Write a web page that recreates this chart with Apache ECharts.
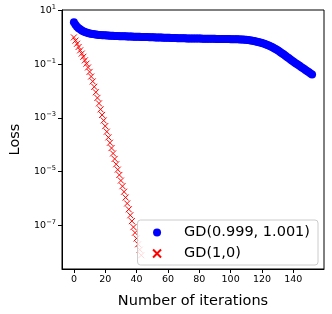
<!DOCTYPE html>
<html>
<head>
<meta charset="utf-8">
<script src="https://cdn.jsdelivr.net/npm/echarts@6/dist/echarts.min.js"></script>
<style>html,body{margin:0;padding:0;background:#fff}#c{width:332px;height:314px}</style>
</head>
<body>
<div id="c"></div>
<script>
// Loss per iteration, GD(0.999, 1.001) (iterations 0..152)
const lossBlue = [
  3.63, 2.95, 2.51, 2.19, 2.00, 1.82, 1.70, 1.58, 1.51, 1.45, 1.40,
  1.36, 1.33, 1.30, 1.28, 1.26, 1.24, 1.22, 1.21, 1.20, 1.19,
  1.175, 1.167, 1.159, 1.151, 1.143, 1.135, 1.127, 1.122, 1.114, 1.109,
  1.104, 1.099, 1.094, 1.089, 1.084, 1.079, 1.074, 1.069, 1.064, 1.059,
  1.054, 1.050, 1.045, 1.040, 1.035, 1.030, 1.026, 1.021, 1.016, 1.012,
  1.007, 1.002, 0.998, 0.993, 0.989, 0.984, 0.979, 0.975, 0.970, 0.966,
  0.962, 0.957, 0.953, 0.948, 0.944, 0.940, 0.936, 0.931, 0.927, 0.923,
  0.921, 0.919, 0.917, 0.915, 0.913, 0.911, 0.909, 0.907, 0.905, 0.903,
  0.901, 0.899, 0.897, 0.895, 0.893, 0.891, 0.889, 0.887, 0.885, 0.883,
  0.881, 0.879, 0.877, 0.875, 0.873, 0.871, 0.869, 0.866, 0.863, 0.860,
  0.857, 0.854, 0.851, 0.848, 0.845, 0.841, 0.837, 0.832, 0.826, 0.820,
  0.804, 0.785, 0.767, 0.748, 0.728, 0.706, 0.685, 0.664, 0.641, 0.617,
  0.592, 0.565, 0.537, 0.508, 0.479, 0.449, 0.419, 0.389, 0.360, 0.331,
  0.303, 0.277, 0.252, 0.229, 0.207, 0.187, 0.170, 0.154, 0.139, 0.126,
  0.115, 0.105, 0.0957, 0.0873, 0.0796, 0.0726, 0.0662, 0.0604, 0.0551, 0.0502,
  0.0458, 0.0418
];
// Loss per iteration, GD(1,0) (iterations 0..43)
const lossRed = [
  1.0, 0.76, 0.58, 0.44, 0.33, 0.25, 0.19, 0.14, 0.105, 0.076,
  0.052, 0.035, 0.023, 0.0145, 9.1e-3, 5.6e-3, 3.5e-3, 2.1e-3, 1.3e-3, 8.1e-4,
  5.0e-4, 3.1e-4, 1.9e-4, 1.2e-4, 7.6e-5, 4.8e-5, 3.0e-5, 1.9e-5, 1.2e-5, 7.6e-6,
  4.7e-6, 2.9e-6, 1.8e-6, 1.1e-6, 6.6e-7, 4.0e-7, 2.4e-7, 1.45e-7, 8.7e-8, 5.4e-8,
  3.3e-8, 2.0e-8, 1.26e-8, 7.8e-9
];
const seriesNames = ['GD(0.999, 1.001)', 'GD(1,0)'];
const xTicks = [0, 20, 40, 60, 80, 100, 120, 140];
const yTickExponents = [1, -1, -3, -5, -7];
const xTitle = 'Number of iterations';
const yTitle = 'Loss';

const toPts = arr => arr.map((v, i) => [i, Math.log10(v)]);
const FONT = 'DejaVu Sans';

const chart = echarts.init(document.getElementById('c'), null, {renderer: 'canvas'});
chart.setOption({
  animation: false,
  backgroundColor: '#fff',
  textStyle: {fontFamily: FONT},
  grid: {left: 55, right: 8, top: 10, bottom: 41, show: true, borderColor: '#000', borderWidth: 1},
  xAxis: {
    type: 'value', min: -7.6, max: 159.6,
    axisLine: {show: true, onZero: false, lineStyle: {color: '#000', width: 1}},
    axisTick: {show: true, length: 4, customValues: xTicks, lineStyle: {color: '#000'}},
    axisLabel: {customValues: xTicks, fontSize: 9.5, color: '#000', margin: 6, fontFamily: FONT},
    splitLine: {show: false},
    name: xTitle, nameLocation: 'middle', nameGap: 25,
    nameTextStyle: {fontSize: 14.5, color: '#000', fontFamily: FONT}
  },
  yAxis: {
    type: 'value', min: -8.62, max: 1.02,
    axisLine: {show: true, onZero: false, lineStyle: {color: '#000', width: 1}},
    axisTick: {show: true, length: 4, customValues: yTickExponents, lineStyle: {color: '#000'}},
    axisLabel: {
      customValues: yTickExponents, margin: 6, color: '#000',
      formatter: v => '{b|10}{s|' + (v < 0 ? '\u2212' : '') + Math.abs(v) + '}',
      rich: {
        b: {fontSize: 9.5, lineHeight: 14, verticalAlign: 'middle', fontFamily: FONT, color: '#000'},
        s: {fontSize: 6.7, lineHeight: 14, verticalAlign: 'top', fontFamily: FONT, color: '#000'}
      }
    },
    splitLine: {show: false},
    name: yTitle, nameLocation: 'middle', nameGap: 39, nameRotate: 90,
    nameTextStyle: {fontSize: 14.5, color: '#000', fontFamily: FONT}
  },
  legend: {
    orient: 'vertical', right: 14, bottom: 49,
    backgroundColor: 'rgba(255,255,255,0.85)', borderColor: '#cccccc', borderWidth: 1, borderRadius: 3,
    padding: [5, 8, 4, 13], itemGap: 6, itemWidth: 8, itemHeight: 8,
    textStyle: {fontSize: 14.5, color: '#000', fontFamily: FONT, padding: [0, 0, 0, 18]},
    data: seriesNames
  },
  series: [
    {
      name: seriesNames[0], type: 'scatter', data: toPts(lossBlue),
      symbol: 'circle', symbolSize: 8, itemStyle: {color: '#0000ff', opacity: 1}, z: 2
    },
    {
      name: seriesNames[1], type: 'scatter', data: toPts(lossRed),
      symbol: 'path://M0,0L10,10M10,0L0,10', symbolSize: 6,
      itemStyle: {color: 'none', borderColor: '#ff0000', borderWidth: 1, opacity: 1}, z: 3
    }
  ]
});
</script>
</body>
</html>
